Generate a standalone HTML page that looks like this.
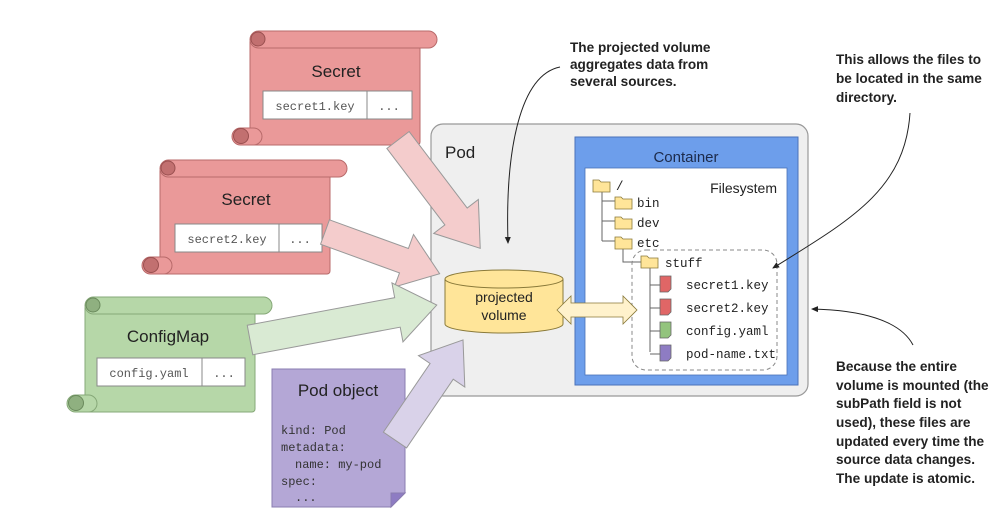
<!DOCTYPE html>
<html><head><meta charset="utf-8"><style>
html,body{margin:0;padding:0;background:#fff;}
svg{display:block;}
.t{font-family:"Liberation Sans",sans-serif;}
.m{font-family:"Liberation Mono",monospace;}
.a{font-family:"Liberation Sans",sans-serif;font-weight:bold;font-size:13.6px;fill:#222;}
</style></head><body>
<svg width="1008" height="528" viewBox="0 0 1008 528" xmlns="http://www.w3.org/2000/svg">
<defs>
<marker id="ah" markerWidth="8" markerHeight="8" refX="6" refY="4" orient="auto"><path d="M0,1 L7,4 L0,7 z" fill="#222"/></marker>
</defs>

<rect x="431" y="124" width="377" height="272" rx="12" fill="#efefef" stroke="#999" stroke-width="1.2"/>
<text x="445" y="158" class="t" font-size="17" fill="#222">Pod</text>

<rect x="575" y="137" width="223" height="248" fill="#6d9eeb" stroke="#4a72b8"/>
<rect x="585" y="168" width="202" height="207" fill="#fff" stroke="#4a72b8" stroke-width="0.8"/>
<text x="686" y="162" class="t" font-size="15" fill="#1c2a4a" text-anchor="middle">Container</text>
<text x="777" y="193" class="t" font-size="14" fill="#222" text-anchor="end">Filesystem</text>

<g stroke="#666" stroke-width="1" fill="none">
<path d="M602,188 V241 M602,201 H615 M602,221 H615 M602,241 H615"/>
<path d="M623,248 V262 H641"/>
<path d="M650,268 V352 M650,285 H660 M650,308 H660 M650,331 H660 M650,354 H660"/>
</g>
<rect x="632" y="250" width="145" height="120" rx="14" fill="none" stroke="#888" stroke-dasharray="4,3"/>
<g fill="#ffe599" stroke="#8a7a3a" stroke-width="0.8">
<path d="M593,180 h6 l2,2 h9 v10 h-17 z"/>
<path d="M615,197 h6 l2,2 h9 v10 h-17 z"/>
<path d="M615,217 h6 l2,2 h9 v10 h-17 z"/>
<path d="M615,237 h6 l2,2 h9 v10 h-17 z"/>
<path d="M641,256 h6 l2,2 h9 v10 h-17 z"/>
</g>
<g stroke="#666" stroke-width="0.8">
<path d="M660,276 h11 v13 l-3,3 h-8 z" fill="#e06666"/>
<path d="M660,299 h11 v13 l-3,3 h-8 z" fill="#e06666"/>
<path d="M660,322 h11 v13 l-3,3 h-8 z" fill="#93c47d"/>
<path d="M660,345 h11 v13 l-3,3 h-8 z" fill="#8e7cc3"/>
</g>
<g class="m" font-size="12.5" fill="#222">
<text x="616" y="190">/</text>
<text x="637" y="207">bin</text>
<text x="637" y="227">dev</text>
<text x="637" y="247">etc</text>
<text x="665" y="267">stuff</text>
<text x="686" y="289">secret1.key</text>
<text x="686" y="312">secret2.key</text>
<text x="686" y="335">config.yaml</text>
<text x="686" y="358">pod-name.txt</text>
</g>

<path d="M445,279 V324 A59,9 0 0 0 563,324 V279" fill="#ffe599" stroke="#8a7a3a"/>
<ellipse cx="504" cy="279" rx="59" ry="9" fill="#ffe599" stroke="#8a7a3a"/>
<text x="504" y="302" class="t" font-size="14" fill="#222" text-anchor="middle">projected</text>
<text x="504" y="320" class="t" font-size="14" fill="#222" text-anchor="middle">volume</text>

<path d="M557,310 L571,296 V303 H623 V296 L637,310 L623,324 V317 H571 V324 Z" fill="#fff2cc" stroke="#8a7a3a" stroke-width="0.8"/>

<g transform="translate(232,31)">
<rect x="18" y="8" width="170" height="106" rx="3" fill="#ea9999" stroke="#b86a6a"/>
<rect x="18" y="0" width="187" height="17" rx="8.5" fill="#ea9999" stroke="#b86a6a"/>
<circle cx="26" cy="8" r="7" fill="#c27070" stroke="#9a5050"/>
<rect x="0" y="97" width="30" height="17" rx="8.5" fill="#ea9999" stroke="#b86a6a"/>
<circle cx="9" cy="105" r="7.5" fill="#c27070" stroke="#9a5050"/>
</g>
<text x="336" y="77" class="t" font-size="17" fill="#222" text-anchor="middle">Secret</text>
<rect x="263" y="91" width="149" height="28" fill="#fff" stroke="#888"/>
<line x1="367" y1="91" x2="367" y2="119" stroke="#888"/>
<text x="315" y="110" class="m" font-size="12" fill="#555" text-anchor="middle">secret1.key</text>
<text x="389" y="110" class="m" font-size="12" fill="#555" text-anchor="middle">...</text>

<g transform="translate(142,160)">
<rect x="18" y="8" width="170" height="106" rx="3" fill="#ea9999" stroke="#b86a6a"/>
<rect x="18" y="0" width="187" height="17" rx="8.5" fill="#ea9999" stroke="#b86a6a"/>
<circle cx="26" cy="8" r="7" fill="#c27070" stroke="#9a5050"/>
<rect x="0" y="97" width="30" height="17" rx="8.5" fill="#ea9999" stroke="#b86a6a"/>
<circle cx="9" cy="105" r="7.5" fill="#c27070" stroke="#9a5050"/>
</g>
<text x="246" y="205" class="t" font-size="17" fill="#222" text-anchor="middle">Secret</text>
<rect x="175" y="224" width="147" height="28" fill="#fff" stroke="#888"/>
<line x1="279" y1="224" x2="279" y2="252" stroke="#888"/>
<text x="227" y="243" class="m" font-size="12" fill="#555" text-anchor="middle">secret2.key</text>
<text x="300" y="243" class="m" font-size="12" fill="#555" text-anchor="middle">...</text>

<g transform="translate(67,297)">
<rect x="18" y="8" width="170" height="107" rx="3" fill="#b6d7a8" stroke="#86a878"/>
<rect x="18" y="0" width="187" height="17" rx="8.5" fill="#b6d7a8" stroke="#86a878"/>
<circle cx="26" cy="8" r="7" fill="#8fb080" stroke="#6a8a5c"/>
<rect x="0" y="98" width="30" height="17" rx="8.5" fill="#b6d7a8" stroke="#86a878"/>
<circle cx="9" cy="106" r="7.5" fill="#8fb080" stroke="#6a8a5c"/>
</g>
<text x="168" y="342" class="t" font-size="17" fill="#222" text-anchor="middle">ConfigMap</text>
<rect x="97" y="358" width="148" height="28" fill="#fff" stroke="#888"/>
<line x1="202" y1="358" x2="202" y2="386" stroke="#888"/>
<text x="149" y="377" class="m" font-size="12" fill="#555" text-anchor="middle">config.yaml</text>
<text x="224" y="377" class="m" font-size="12" fill="#555" text-anchor="middle">...</text>

<path d="M272,369 H405 V493 L391,507 H272 Z" fill="#b4a7d6" stroke="#8a7cb0"/>
<path d="M405,493 L391,493 L391,507 Z" fill="#8e7cc3" stroke="#8a7cb0"/>
<text x="338" y="396" class="t" font-size="17" fill="#222" text-anchor="middle">Pod object</text>
<g class="m" font-size="12" fill="#333">
<text x="281" y="434">kind: Pod</text>
<text x="281" y="451">metadata:</text>
<text x="295" y="468">name: my-pod</text>
<text x="281" y="485">spec:</text>
<text x="295" y="501">...</text>
</g>

<g stroke="#999" stroke-width="1">
<polygon transform="translate(398,140) rotate(52.8)" points="0,-14 96,-14 96,-28 136,0 96,28 96,14 0,14" fill="#f4cccc"/>
<polygon transform="translate(325,232) rotate(20)" points="0,-13 84,-13 84,-28 122,0 84,28 84,13 0,13" fill="#f4cccc"/>
<polygon transform="translate(250,340) rotate(-10.6)" points="0,-15 150,-15 150,-30 190,0 150,30 150,15 0,15" fill="#d9ead3"/>
<polygon transform="translate(395,440) rotate(-55.8)" points="0,-14 83,-14 83,-28 121,0 83,28 83,14 0,14" fill="#d9d2e9"/>
</g>

<text class="a"><tspan x="570" y="52">The projected volume</tspan><tspan x="570" y="69">aggregates data from</tspan><tspan x="570" y="86">several sources.</tspan></text>
<path d="M560,67 C520,75 505,150 508,243" fill="none" stroke="#222" stroke-width="1" marker-end="url(#ah)"/>

<text class="a"><tspan x="836" y="64">This allows the files to</tspan><tspan x="836" y="83">be located in the same</tspan><tspan x="836" y="102">directory.</tspan></text>
<path d="M910,113 C905,190 850,220 773,268" fill="none" stroke="#222" stroke-width="1" marker-end="url(#ah)"/>

<text class="a"><tspan x="836" y="371">Because the entire</tspan><tspan x="836" y="390">volume is mounted (the</tspan><tspan x="836" y="408">subPath field is not</tspan><tspan x="836" y="427">used), these files are</tspan><tspan x="836" y="446">updated every time the</tspan><tspan x="836" y="464">source data changes.</tspan><tspan x="836" y="483">The update is atomic.</tspan></text>
<path d="M913,345 C900,320 860,310 812,309" fill="none" stroke="#222" stroke-width="1" marker-end="url(#ah)"/>
</svg>
</body></html>
